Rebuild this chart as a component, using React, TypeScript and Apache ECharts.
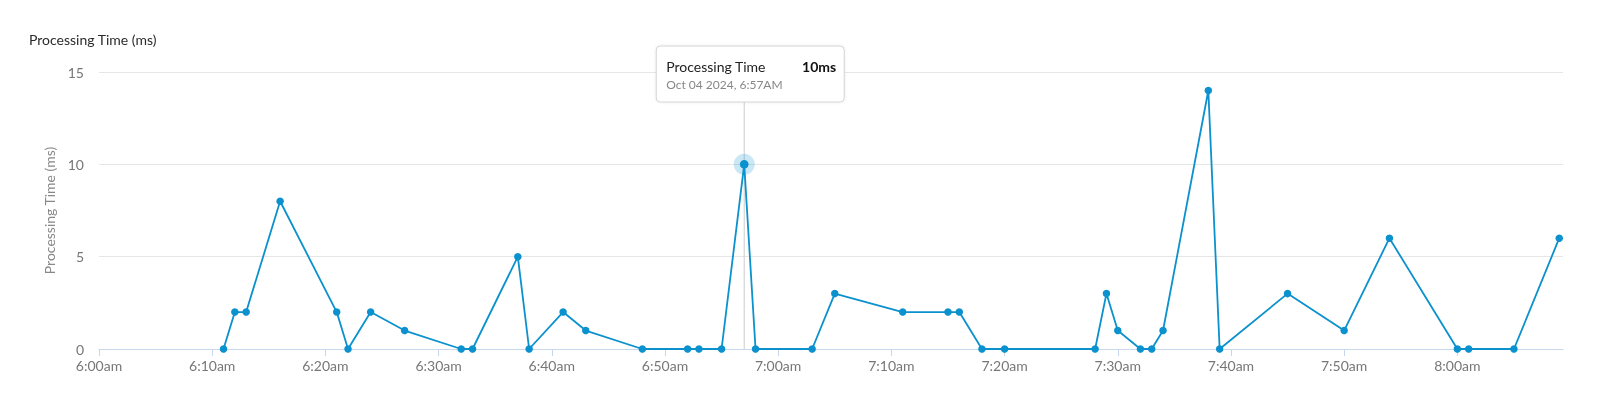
import React, { useEffect, useRef } from "react";
import * as echarts from "echarts";

const dateBase = [2024, 9, 4];
const times = [
  "06:11", "06:12", "06:13", "06:16", "06:21", "06:22", "06:24", "06:27",
  "06:32", "06:33", "06:37", "06:38", "06:41", "06:43", "06:48", "06:52",
  "06:53", "06:55", "06:57", "06:58", "07:03", "07:05", "07:11", "07:15",
  "07:16", "07:18", "07:20", "07:28", "07:29", "07:30", "07:32", "07:33",
  "07:34", "07:38", "07:39", "07:45", "07:50", "07:54", "08:00", "08:01",
  "08:05", "08:09",
];
const values = [
  0, 2, 2, 8, 2, 0, 2, 1,
  0, 0, 5, 0, 2, 1, 0, 0,
  0, 0, 10, 0, 0, 3, 2, 2,
  2, 0, 0, 0, 3, 1, 0, 0,
  1, 14, 0, 3, 1, 6, 0, 0,
  0, 6,
];
const xTickTimes = [
  "06:00", "06:10", "06:20", "06:30", "06:40", "06:50", "07:00",
  "07:10", "07:20", "07:30", "07:40", "07:50", "08:00",
];
const xMinTime = "06:00";
const xMaxTime = "08:09:20";
const yTicks = [0, 5, 10, 15];
const tooltipIndex = 18;
const seriesName = "Processing Time";
const unit = "ms";
const titleText = "Processing Time (ms)";

const LINE = "#0b91cd";
const FONT = "Lato, 'Noto Sans', sans-serif";

function toTs(hm: string): number {
  const p = hm.split(":").map(Number);
  return new Date(dateBase[0], dateBase[1], dateBase[2], p[0], p[1], p[2] || 0).getTime();
}
function fmtAxis(v: number): string {
  const d = new Date(v);
  const h = d.getHours();
  const m = d.getMinutes();
  const h12 = h % 12 === 0 ? 12 : h % 12;
  return `${h12}:${String(m).padStart(2, "0")}${h < 12 ? "am" : "pm"}`;
}
function fmtTooltip(v: number): string {
  const months = ["Jan", "Feb", "Mar", "Apr", "May", "Jun", "Jul", "Aug", "Sep", "Oct", "Nov", "Dec"];
  const d = new Date(v);
  const h = d.getHours();
  const h12 = h % 12 === 0 ? 12 : h % 12;
  return `${months[d.getMonth()]} ${String(d.getDate()).padStart(2, "0")} ${d.getFullYear()}, ${h12}:${String(d.getMinutes()).padStart(2, "0")}${h < 12 ? "AM" : "PM"}`;
}

export default function App() {
  const ref = useRef<HTMLDivElement>(null);
  useEffect(() => {
    document.body.style.margin = "0";
    const chart = echarts.init(ref.current!, undefined, { renderer: "svg" });
    const data = times.map((t, i) => [toTs(t), values[i]]);
    const tickVals = xTickTimes.map(toTs);
    chart.setOption({
      animation: false,
      textStyle: { fontFamily: FONT },
      title: {
        text: titleText,
        left: 29,
        top: 32,
        padding: 0,
        textStyle: { fontFamily: FONT, fontSize: 14, fontWeight: "normal", color: "#2b2b2b" },
      },
      grid: { left: 99, right: 37, top: 72, bottom: 67, containLabel: false },
      xAxis: {
        type: "value",
        min: toTs(xMinTime),
        max: toTs(xMaxTime),
        splitLine: { show: false },
        axisLine: { show: true, lineStyle: { color: "#c9d7ec", width: 1 } },
        axisTick: { show: true, customValues: tickVals, length: 7, lineStyle: { color: "#c9d7ec" } },
        axisLabel: {
          customValues: tickVals,
          formatter: (v: number) => fmtAxis(v),
          color: "#777",
          fontSize: 14,
          fontFamily: FONT,
          margin: 9,
          showMaxLabel: true,
          showMinLabel: true,
          hideOverlap: false,
        },
      },
      yAxis: {
        type: "value",
        min: yTicks[0],
        max: yTicks[yTicks.length - 1],
        interval: yTicks[1] - yTicks[0],
        name: titleText,
        nameLocation: "middle",
        nameRotate: 90,
        nameGap: 41,
        nameTextStyle: { color: "#888", fontSize: 14, fontFamily: FONT },
        axisLine: { show: false },
        axisTick: { show: false },
        axisLabel: { color: "#777", fontSize: 14, fontFamily: FONT, margin: 15 },
        splitLine: { lineStyle: { color: "#e6e6e6", width: 1 } },
      },
      series: [
        {
          name: seriesName,
          type: "line",
          data,
          symbol: "circle",
          symbolSize: 7.5,
          showAllSymbol: true,
          lineStyle: { color: LINE, width: 1.8 },
          itemStyle: { color: LINE },
          z: 2,
        },
      ],
    });
    const tp = data[tooltipIndex];
    const [px, py] = chart.convertToPixel({ gridIndex: 0 }, tp) as number[];
    const top = (chart.convertToPixel({ gridIndex: 0 }, [tp[0], yTicks[yTicks.length - 1]]) as number[])[1];
    const bottom = (chart.convertToPixel({ gridIndex: 0 }, [tp[0], yTicks[0]]) as number[])[1];
    const boxTop = 46;
    const boxLeft = px - 88;
    chart.setOption({
      graphic: [
        { type: "line", z: 1, shape: { x1: px, y1: top, x2: px, y2: bottom }, style: { stroke: "#cccccc", lineWidth: 1 } },
        { type: "circle", z: 1, shape: { cx: px, cy: py, r: 10.5 }, style: { fill: "rgba(11,145,205,0.22)" } },
        { type: "circle", z: 50, shape: { cx: px, cy: py, r: 4.3 }, style: { fill: LINE } },
        {
          type: "rect",
          z: 100,
          shape: { x: boxLeft, y: boxTop, width: 188, height: 56, r: 4 },
          style: { fill: "#fff", stroke: "#d4d4d4", lineWidth: 1, shadowBlur: 3, shadowColor: "rgba(0,0,0,0.08)" },
        },
        {
          type: "text",
          z: 101,
          x: boxLeft + 10,
          y: boxTop + 20,
          style: { text: seriesName, fontSize: 14, fontFamily: FONT, fill: "#222", verticalAlign: "middle", align: "left" },
        },
        {
          type: "text",
          z: 101,
          x: boxLeft + 180,
          y: boxTop + 20,
          style: { text: `${tp[1]}${unit}`, fontSize: 14, fontWeight: "bold", fontFamily: FONT, fill: "#111", verticalAlign: "middle", align: "right" },
        },
        {
          type: "text",
          z: 101,
          x: boxLeft + 10,
          y: boxTop + 38,
          style: { text: fmtTooltip(tp[0]), fontSize: 12, fontFamily: FONT, fill: "#888", verticalAlign: "middle", align: "left" },
        },
      ],
    });
    return () => chart.dispose();
  }, []);
  return <div ref={ref} style={{ position: "fixed", left: 0, top: 0, width: 1600, height: 416 }} />;
}
